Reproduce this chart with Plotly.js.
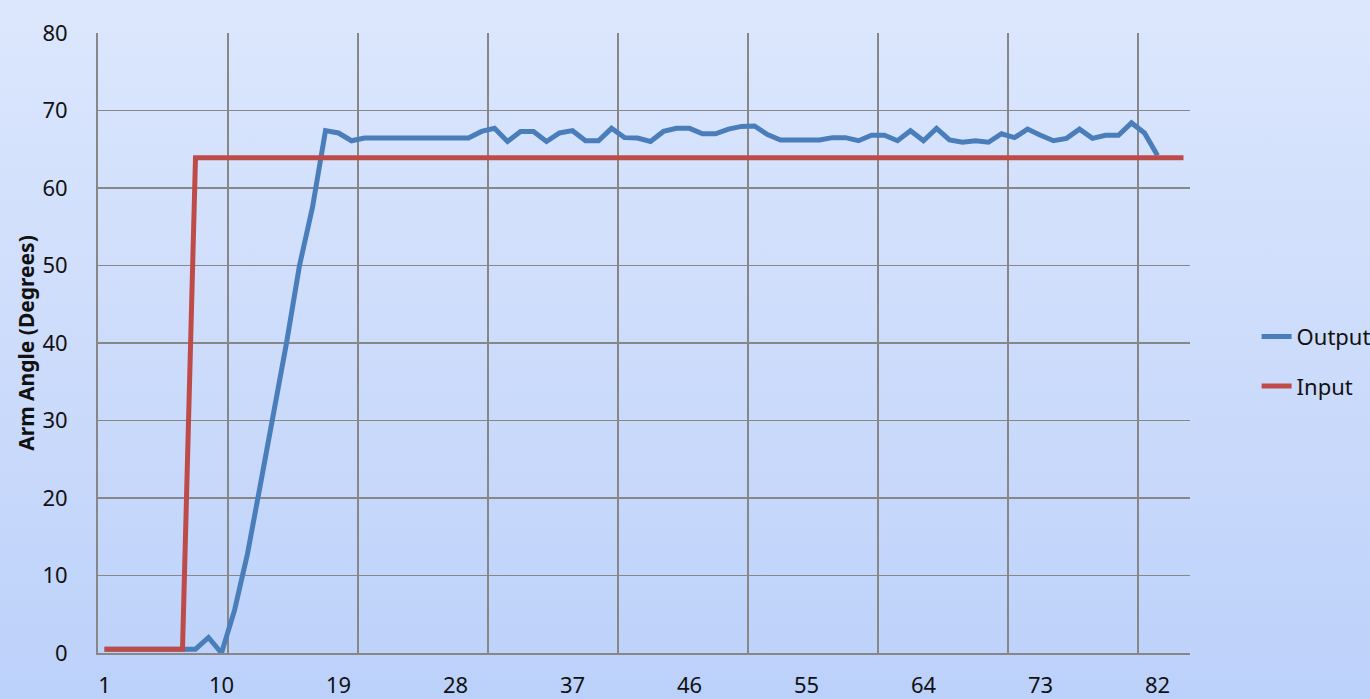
<!DOCTYPE html>
<html>
<head>
<meta charset="utf-8">
<script src="https://cdn.plot.ly/plotly-3.0.1.min.js"></script>
<style>
html,body{margin:0;padding:0;width:1370px;height:699px;overflow:hidden;
background:linear-gradient(to bottom,#dce7fd 0%,#cddcfb 50%,#bcd1fa 100%);}
#chart{width:1370px;height:699px;}
</style>
</head>
<body>
<div id="chart"></div>
<script>
const outputValues = [0.5,0.5,0.5,0.5,0.5,0.5,0.5,0.5,2.0,0.0,
  5.5,12.8,21.8,30.8,40.0,50.0,57.5,67.4,67.1,66.1,
  66.45,66.45,66.45,66.45,66.45,66.45,66.45,66.45,66.45,67.3,
  67.7,66.0,67.3,67.3,66.0,67.1,67.4,66.1,66.1,67.7,
  66.5,66.45,66.0,67.3,67.7,67.7,67.0,67.0,67.6,67.95,
  68.0,66.9,66.2,66.2,66.2,66.2,66.5,66.5,66.1,66.8,
  66.8,66.1,67.4,66.1,67.7,66.2,65.9,66.1,65.9,67.0,
  66.5,67.6,66.8,66.1,66.4,67.6,66.4,66.8,66.8,68.4,
  67.1,64.2];
const inputValues = [0.5,0.5,0.5,0.5,0.5,0.5,0.5,63.9,63.9,63.9,
  63.9,63.9,63.9,63.9,63.9,63.9,63.9,63.9,63.9,63.9,
  63.9,63.9,63.9,63.9,63.9,63.9,63.9,63.9,63.9,63.9,
  63.9,63.9,63.9,63.9,63.9,63.9,63.9,63.9,63.9,63.9,
  63.9,63.9,63.9,63.9,63.9,63.9,63.9,63.9,63.9,63.9,
  63.9,63.9,63.9,63.9,63.9,63.9,63.9,63.9,63.9,63.9,
  63.9,63.9,63.9,63.9,63.9,63.9,63.9,63.9,63.9,63.9,
  63.9,63.9,63.9,63.9,63.9,63.9,63.9,63.9,63.9,63.9,
  63.9,63.9,63.9,63.9];
const xTickLabels = [1,10,19,28,37,46,55,64,73,82];
const yTickValues = [0,10,20,30,40,50,60,70,80];
const seriesNames = ["Output","Input"];
const yTitle = "Arm Angle (Degrees)";

const outputX = outputValues.map((v,i)=>i+1);
const inputX = inputValues.map((v,i)=>i+1);
const nCat = inputValues.length;
const gridVals = [];
for (let g = 10.5; g < nCat; g += 10) gridVals.push(g);

const FONT = "Noto Sans, Open Sans, sans-serif";
const GRID = "#878787";
const TXT = "#111";

const traces = [
  {x: [gridVals[0]], y: [null], xaxis: "x2", yaxis: "y", showlegend: false,
   hoverinfo: "skip", type: "scatter", mode: "lines"},
  {x: outputX, y: outputValues, name: seriesNames[0], type: "scatter", mode: "lines",
   line: {color: "#4a7ebb", width: 5}, legendgroup: "a"},
  {x: inputX, y: inputValues, name: seriesNames[1], type: "scatter", mode: "lines",
   line: {color: "#be4b48", width: 5}, legendgroup: "b"}
];

const layout = {
  width: 1370, height: 699,
  paper_bgcolor: "rgba(0,0,0,0)", plot_bgcolor: "rgba(0,0,0,0)",
  margin: {l: 98, r: 180, t: 33, b: 46, pad: 0, autoexpand: false},
  font: {family: FONT, size: 22, color: TXT},
  showlegend: true,
  legend: {x: 1.061, xanchor: "left", y: 0.47, yanchor: "middle",
           bgcolor: "rgba(0,0,0,0)", font: {family: FONT, size: 22, color: TXT},
           traceorder: "grouped", tracegroupgap: 18},
  xaxis: {range: [0.5, nCat + 0.5], tickmode: "array", tickvals: xTickLabels,
          ticktext: xTickLabels.map(String), showgrid: false, zeroline: false,
          showline: true, linecolor: GRID, linewidth: 2, ticks: "",
          ticklabelstandoff: 12, tickfont: {family: FONT, size: 22, color: TXT}},
  xaxis2: {range: [0.5, nCat + 0.5], overlaying: "x", tickmode: "array", tickvals: gridVals,
           showticklabels: false, showgrid: true, gridcolor: GRID, gridwidth: 1.6,
           zeroline: false, showline: false, ticks: ""},
  yaxis: {range: [0, 80], tickmode: "array", tickvals: yTickValues, showgrid: true,
          gridcolor: GRID, gridwidth: 1.6, zeroline: false, showline: true,
          linecolor: GRID, linewidth: 2, ticks: "", ticklabelstandoff: 24,
          tickfont: {family: FONT, size: 22, color: TXT},
          title: {text: yTitle, font: {family: FONT, size: 21, color: TXT, weight: "bold"}, standoff: 2}}
};

Plotly.newPlot("chart", traces, layout, {displayModeBar: false, staticPlot: true});
</script>
</body>
</html>
